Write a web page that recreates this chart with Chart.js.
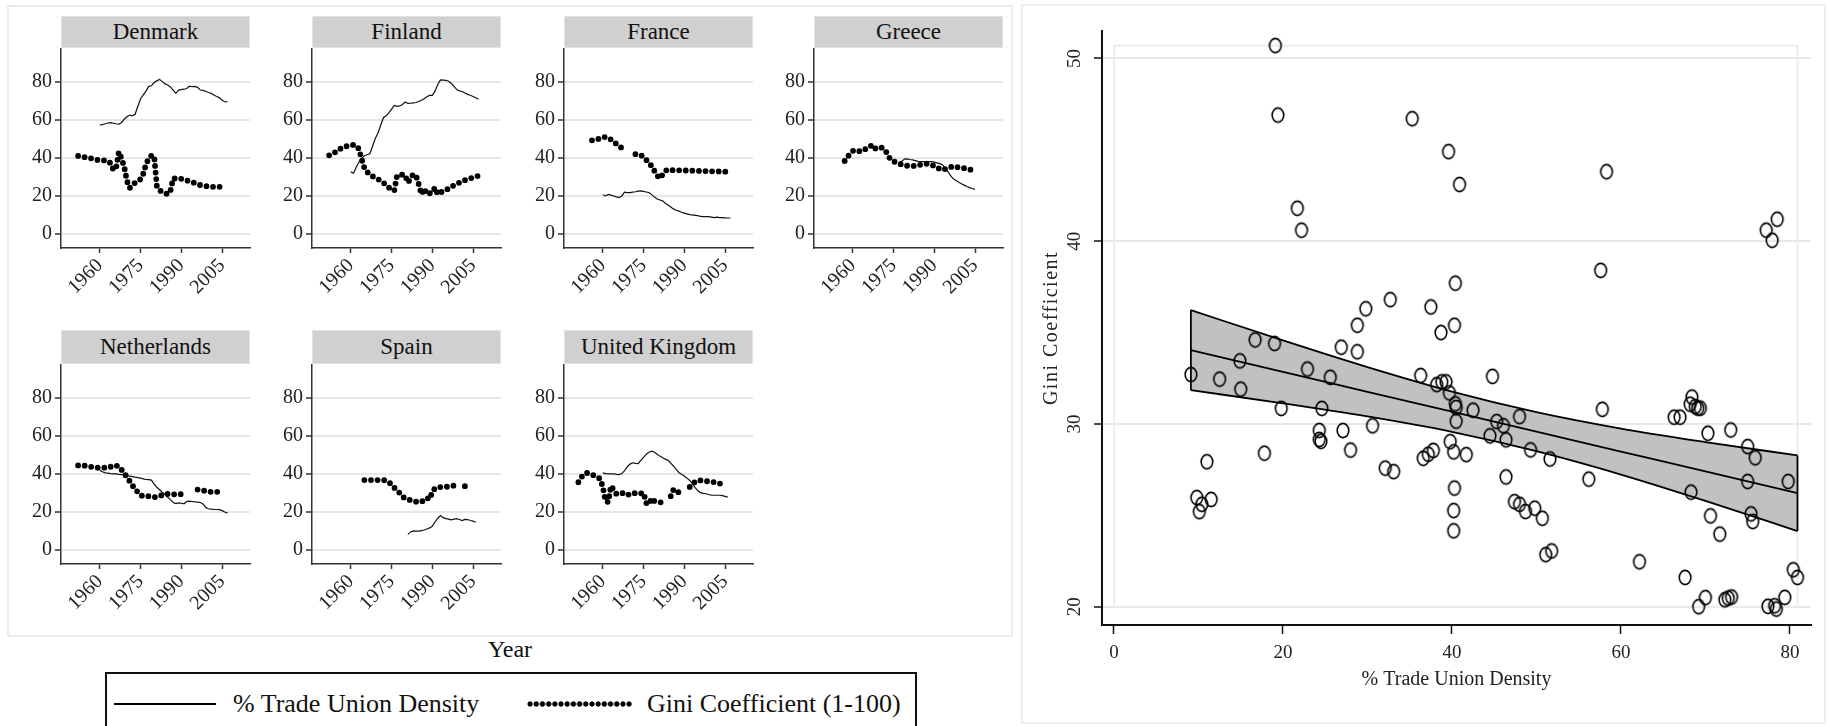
<!DOCTYPE html>
<html lang="en">
<head>
<meta charset="UTF-8">
<title>Trade union density and income inequality</title>
<script src="https://cdn.jsdelivr.net/npm/chart.js"></script>
<style>
  body {
    margin: 0;
    width: 1827px;
    height: 726px;
    overflow: hidden;
    position: relative;
    background: #fff;
    font-family: "Liberation Serif", "DejaVu Serif", serif;
    color: #111;
  }
  .frame { position: absolute; box-sizing: border-box; border: 2px solid #ececec; }
  .strip {
    position: absolute; box-sizing: border-box;
    background: #d0d0d0; border: 1px solid #dce5ea;
    font-family: "Liberation Serif", serif;
    font-size: 23px; text-align: center; color: #111;
  }
  canvas { position: absolute; }
  .label { position: absolute; white-space: nowrap; }
  #legend { position: absolute; box-sizing: border-box; border: 2px solid #111; }
  #legend div { position: absolute; }
</style>
</head>
<body>

<div class="frame" style="left:7px; top:5px; width:1006px; height:632px;"></div>
<div class="frame" style="left:1021px; top:4px; width:805px; height:720px;"></div>

<div class="label" style="left:460px; top:635px; width:100px; text-align:center; font-size:24px; line-height:28px;">Year</div>

<div id="legend" style="left:105px; top:672px; width:812px; height:70px;">
  <div style="left:7px; top:29px; width:102px; height:2px; background:#000;"></div>
  <div style="left:126px; top:14px; font-size:26px; line-height:32px; white-space:nowrap;">% Trade Union Density</div>
  <div style="left:420px; top:27px; width:105px; height:6px; background-image:radial-gradient(circle, #000 2.4px, transparent 2.9px); background-size:6.2px 6px;"></div>
  <div style="left:540px; top:14px; font-size:26px; line-height:32px; white-space:nowrap;">Gini Coefficient (1-100)</div>
</div>

<canvas id="scatter" width="797" height="712" style="left:1025px; top:8px;"></canvas>

<script>
// ---- country series (annual values, first year given separately) ----
const denmarkUnion = [57.2, 57.4, 57.8, 58.2, 58.4, 58.1, 57.8, 57.6, 58.5, 60.2,
  61.5, 62.4, 62.0, 62.8, 67.0, 71.0, 73.0, 75.0, 77.5, 77.8,
  79.5, 80.5, 81.2, 80.0, 78.8, 78.2, 77.2, 75.5, 73.8, 75.5,
  75.8, 76.0, 76.4, 77.6, 77.3, 77.5, 77.0, 75.6, 75.4, 74.9,
  74.3, 73.8, 73.0, 72.2, 71.6, 70.2, 69.4, 69.3];
const denmarkGini = [40.9, 40.6, 40.3, 40.1, 40.0, 39.5, 39.0, 38.8, 38.7, 38.6,
  38.4, 38.2, 37.0, 33.5, 34.5, 43.0, 39.5, 35.0, 27.7, 24.0,
  25.5, 26.8, 27.8, 28.6, 31.5, 36.5, 39.5, 41.0, 40.9, 25.0,
  22.8, 21.9, 21.3, 20.7, 22.5, 29.0, 29.0, 29.0, 28.8, 28.5,
  28.0, 27.5, 27.2, 26.5, 26.0, 25.5, 25.2, 25.0, 24.8, 24.6,
  24.6, 24.6, 24.6, 24.6];

const finlandUnion = [32.5, 31.8, 35.0, 37.7, 39.5, 41.0, 41.5, 42.0, 46.0, 50.0,
  53.0, 57.0, 61.0, 62.0, 63.5, 65.5, 67.5, 67.0, 67.2, 68.0,
  69.3, 68.5, 68.6, 68.8, 69.0, 69.5, 70.2, 71.0, 72.0, 72.8,
  72.8, 75.0, 78.5, 80.9, 80.8, 80.7, 80.2, 79.0, 77.5, 75.8,
  75.1, 74.8, 74.0, 73.3, 72.8, 72.2, 71.5, 70.7];
const finlandGini = [41.2, 42.0, 42.6, 43.6, 44.6, 45.2, 45.8, 46.2, 46.5, 46.7,
  46.3, 44.5, 39.0, 34.5, 32.5, 31.0, 30.2, 29.3, 28.6, 27.9,
  26.8, 25.5, 24.2, 23.3, 22.6, 30.4, 31.0, 31.0, 30.8, 26.8,
  29.0, 31.2, 30.6, 26.0, 20.7, 23.7, 20.7, 21.2, 21.6, 24.2,
  20.7, 21.5, 22.5, 23.1, 23.6, 24.5, 25.5, 26.2, 26.8, 27.5,
  28.1, 28.6, 29.1, 29.5, 30.0, 30.4];

const franceUnion = [20.4, 19.8, 20.6, 20.2, 19.8, 19.3, 18.9, 19.8, 21.8, 21.6,
  21.6, 21.8, 22.0, 22.3, 22.5, 22.2, 21.9, 21.6, 20.5, 19.2,
  18.2, 17.7, 17.2, 16.0, 15.0, 14.0, 13.0, 12.3, 11.8, 11.2,
  10.8, 10.4, 10.0, 9.8, 9.6, 9.4, 9.0, 8.9, 8.9, 8.9,
  8.7, 8.4, 8.6, 8.4, 8.4, 8.3, 8.2, 8.2];
const franceGini = [49.1, 49.3, 49.6, 50.2, 50.8, 50.8, 50.5, 49.5, 48.2, 47.2,
  46.1, 45.0, 44.0, null, null, null, 41.8, 41.6, 41.4, 40.2,
  38.8, 37.2, 35.5, 33.0, 30.5, 29.1, 31.0, 33.0, 33.8, 33.5,
  33.3, 33.3, 33.3, 33.3, 33.2, 33.2, 33.2, 33.1, 33.1, 33.0,
  33.0, 32.9, 32.9, 32.8, 32.8, 32.7, 32.7, 32.7, 32.6, 32.6,
  32.6];

const greeceUnion = [37.4, 38.0, 39.2, 39.3, 39.0, 38.8, 38.4, 38.0, 37.9, 37.9,
  37.9, 37.9, 37.9, 37.6, 37.2, 36.8, 36.2, 34.5, 32.6, 30.5,
  28.8, 27.9, 27.0, 26.2, 25.5, 24.8, 24.2, 23.7, 23.3];
const greeceGini = [38.2, 40.3, 42.0, 43.5, 44.0, 43.5, 43.2, 44.0, 44.7, 45.6,
  46.5, 44.6, 45.3, 45.6, 45.0, 43.8, 41.0, 38.8, 38.0, 37.5,
  37.0, 36.3, 36.0, 35.7, 35.6, 35.6, 35.6, 35.9, 36.3, 36.6,
  36.8, 36.6, 36.2, 35.6, 34.8, 34.0, 33.5, 34.0, 34.4, 35.0,
  35.5, 35.2, 34.8, 34.6, 34.4, 34.2, 33.8, 33.3];

const netherlandsUnion = [41.7, 41.0, 40.4, 40.2, 40.0, 39.9, 39.8, 39.6, 39.5, 39.2,
  39.0, 38.7, 38.4, 38.1, 37.9, 37.6, 37.2, 36.9, 36.8, 36.6,
  34.5, 32.8, 31.5, 30.2, 29.0, 27.5, 26.3, 24.8, 24.2, 24.6,
  24.4, 24.1, 25.3, 25.5, 25.3, 25.1, 25.0, 24.8, 24.0, 22.2,
  21.5, 21.3, 21.1, 21.1, 21.0, 20.5, 19.8, 19.2];
const netherlandsGini = [44.3, 44.3, 44.3, 44.0, 43.7, 43.5, 43.2, 43.1, 43.1, 43.1,
  43.1, 43.1, 43.6, 44.4, 44.2, 43.8, 42.0, 40.2, 38.1, 36.0,
  33.8, 31.8, 30.2, 28.6, 28.1, 28.1, 28.1, 27.8, 27.6, 27.8,
  28.1, 28.8, 29.3, 29.3, 29.3, 29.1, 29.0, 29.0, 29.2, 29.7,
  30.2, null, null, null, 31.6, 31.4, 31.1, 30.8, 30.5, 30.4,
  30.4, 30.4, 30.4, 30.4];

const spainUnion = [8.0, 9.3, 9.8, 9.7, 9.7, 10.0, 10.3, 10.8, 11.4, 12.2,
  14.5, 16.5, 17.9, 16.8, 16.3, 16.0, 15.6, 16.0, 16.3, 15.8,
  15.3, 15.9, 15.8, 15.3, 15.0, 14.4];
const spainGini = [36.6, 36.6, 36.6, 36.6, 36.6, 36.6, 36.6, 36.6, 36.2, 35.5,
  34.2, 32.6, 31.1, 29.8, 28.0, 26.9, 26.5, 26.0, 25.7, 25.2,
  24.9, 25.2, 26.0, 27.2, 26.5, 30.4, 32.3, 32.7, 32.9, 33.0,
  33.0, 33.2, 33.5, 33.7, null, null, null, 33.4, 33.0, 32.0];

const ukUnion = [40.4, 40.0, 39.9, 39.9, 39.9, 39.6, 39.5, 40.0, 41.5, 43.6,
  45.0, 45.7, 45.4, 45.3, 47.0, 48.5, 50.2, 51.2, 51.8, 51.2,
  50.2, 49.2, 48.3, 47.6, 47.0, 45.5, 44.0, 42.2, 40.6, 39.6,
  38.7, 37.6, 36.4, 34.6, 32.6, 30.9, 30.0, 29.6, 29.4, 29.0,
  28.6, 28.6, 28.6, 28.6, 28.4, 28.0, 27.6];
const ukGini = [35.5, 38.0, 39.5, 40.4, 40.0, 39.5, 38.8, 38.3, 37.2, 33.0,
  25.5, 25.0, 33.5, 31.5, 29.3, 29.3, 29.8, 29.3, 28.6, 29.4,
  29.9, 29.6, 29.3, 29.6, 29.9, 24.5, 23.8, 27.0, 25.5, 25.2,
  24.9, 24.8, null, null, 28.1, 31.6, 30.2, 30.2, null, null,
  null, 33.0, 34.5, 35.7, 36.5, 36.4, 36.2, 36.0, 35.9, 35.7,
  35.5, 35.2, 34.8, 34.2, 33.7];

const yearTicks = [1960, 1975, 1990, 2005];
const shareTicks = [0, 20, 40, 60, 80];

// ---- pooled scatter: union density vs Gini ----
const unionDensity = [19.1, 19.4, 35.3, 39.6, 40.9, 58.3, 21.7, 22.2, 78.5, 77.2,
  77.9, 57.6, 40.4, 32.7, 29.8, 37.5, 28.8, 40.3, 38.7, 16.7,
  19.0, 26.9, 28.8, 14.9, 22.9, 9.1, 12.5, 25.6, 36.3, 44.8,
  38.2, 38.8, 39.3, 39.7, 15.0, 40.4, 40.5, 42.5, 40.5, 19.8,
  24.6, 48.0, 45.3, 46.1, 44.5, 46.4, 30.6, 27.1, 24.3, 24.3,
  24.5, 28.0, 39.8, 40.2, 41.7, 36.6, 37.2, 37.8, 32.1, 33.1,
  46.4, 40.3, 40.2, 40.2, 47.4, 48.0, 48.7, 49.8, 50.7, 51.1,
  51.8, 62.2, 11.0, 17.8, 9.8, 11.5, 10.4, 10.1, 49.3, 51.6,
  56.2, 57.8, 66.3, 67.0, 68.4, 68.2, 68.8, 69.1, 69.4, 70.3,
  73.0, 75.0, 75.9, 75.0, 79.8, 68.3, 70.6, 71.7, 75.4, 75.6,
  67.6, 70.0, 69.2, 72.3, 72.7, 73.1, 77.4, 78.2, 78.4, 79.4,
  80.4, 80.9];
const giniScatter = [50.7, 46.9, 46.7, 44.9, 43.1, 43.8, 41.8, 40.6, 41.2, 40.6,
  40.05, 38.4, 37.7, 36.8, 36.3, 36.4, 35.4, 35.4, 35.0, 34.6,
  34.4, 34.2, 33.95, 33.45, 33.0, 32.7, 32.45, 32.55, 32.65, 32.6,
  32.15, 32.3, 32.3, 31.7, 31.9, 31.1, 30.9, 30.75, 30.15, 30.85,
  30.85, 30.4, 30.13, 29.9, 29.35, 29.13, 29.9, 29.64, 29.64, 29.15,
  29.05, 28.57, 29.03, 28.47, 28.32, 28.12, 28.34, 28.55, 27.58, 27.39,
  27.1, 26.49, 25.26, 24.15, 25.75, 25.6, 25.21, 25.39, 24.84, 22.85,
  23.05, 22.46, 27.93, 28.4, 25.97, 25.87, 25.6, 25.2, 28.58, 28.08,
  26.98, 30.8, 30.37, 30.37, 31.47, 31.08, 30.95, 30.86, 30.86, 29.49,
  29.67, 28.76, 28.15, 26.85, 26.85, 26.27, 24.97, 23.97, 25.08, 24.66,
  21.6, 20.5, 20.0, 20.38, 20.47, 20.53, 20.02, 20.05, 19.87, 20.51,
  22.02, 21.6];

// fitted line and 95% band, read at these x positions
const fitX = [9.1, 20, 30, 40, 50, 60, 70, 80.9];
const fitMid = [34.04, 32.85, 31.76, 30.67, 29.58, 28.49, 27.40, 26.21];
const fitHi = [36.23, 34.57, 33.11, 31.77, 30.65, 29.75, 29.01, 28.28];
const fitLo = [31.85, 31.13, 30.41, 29.57, 28.51, 27.23, 25.79, 24.14];

const giniTicks = [20, 30, 40, 50];
const densityTicks = [0, 20, 40, 60, 80];

// ---- small multiples ----
const FONT = '"Liberation Serif", "DejaVu Serif", serif';
const panels = [
  { name: 'Denmark', union: denmarkUnion, unionStart: 1960, gini: denmarkGini, giniStart: 1952 },
  { name: 'Finland', union: finlandUnion, unionStart: 1960, gini: finlandGini, giniStart: 1952 },
  { name: 'France', union: franceUnion, unionStart: 1960, gini: franceGini, giniStart: 1956 },
  { name: 'Greece', union: greeceUnion, unionStart: 1977, gini: greeceGini, giniStart: 1957 },
  { name: 'Netherlands', union: netherlandsUnion, unionStart: 1960, gini: netherlandsGini, giniStart: 1952 },
  { name: 'Spain', union: spainUnion, unionStart: 1981, gini: spainGini, giniStart: 1965 },
  { name: 'United Kingdom', union: ukUnion, unionStart: 1960, gini: ukGini, giniStart: 1951 }
];

const colLeft = [61, 312, 564, 814];
const rowTop = [48, 364];
const stripTop = [16, 330];
const stripH = [32, 34];
const plotW = 189, plotH = 200, yAxisW = 52, xAxisH = 60, padRight = 8;

function toPoints(start, values) {
  return values.map((v, i) => ({ x: start + i, y: v }));
}

panels.forEach((p, i) => {
  const col = i % 4, row = Math.floor(i / 4);
  const left = colLeft[col], top = rowTop[row];

  const strip = document.createElement('div');
  strip.className = 'strip';
  strip.textContent = p.name;
  Object.assign(strip.style, {
    left: left + 'px', top: stripTop[row] + 'px', width: plotW + 'px',
    height: stripH[row] + 'px', lineHeight: (stripH[row] - 2) + 'px'
  });
  document.body.appendChild(strip);

  const cv = document.createElement('canvas');
  cv.width = yAxisW + plotW + padRight;
  cv.height = plotH + xAxisH;
  cv.style.left = (left - yAxisW) + 'px';
  cv.style.top = top + 'px';
  document.body.appendChild(cv);

  new Chart(cv, {
    type: 'line',
    data: {
      datasets: [
        {
          label: '% Trade Union Density',
          data: toPoints(p.unionStart, p.union),
          borderColor: '#111', borderWidth: 1.2, pointRadius: 0, tension: 0
        },
        {
          label: 'Gini Coefficient (1-100)',
          data: toPoints(p.giniStart, p.gini),
          borderColor: '#000', borderWidth: 5.8, borderDash: [0, 6.6],
          borderCapStyle: 'round', pointRadius: 0, spanGaps: false, tension: 0
        }
      ]
    },
    options: {
      responsive: false, animation: false, devicePixelRatio: 1,
      layout: { padding: { left: 0, right: padRight, top: 0, bottom: 0 } },
      plugins: { legend: { display: false }, tooltip: { enabled: false } },
      scales: {
        x: {
          type: 'linear', min: 1945.7, max: 2015.3,
          afterBuildTicks: s => { s.ticks = yearTicks.map(v => ({ value: v })); },
          afterFit: s => { s.height = xAxisH; s.paddingLeft = 0; s.paddingRight = 0; },
          ticks: {
            autoSkip: false, minRotation: 45, maxRotation: 45, padding: 1,
            color: '#222', font: { family: FONT, size: 20 },
            callback: v => String(v)
          },
          grid: { drawOnChartArea: false, drawTicks: true, tickLength: 5, tickColor: '#333', tickWidth: 1.5 },
          border: { display: true, color: '#333', width: 1.5 }
        },
        y: {
          min: -7.6, max: 97.7,
          afterBuildTicks: s => { s.ticks = shareTicks.map(v => ({ value: v })); },
          afterFit: s => { s.width = yAxisW; s.paddingTop = 0; s.paddingBottom = 0; },
          ticks: { color: '#222', padding: 3, font: { family: FONT, size: 20 } },
          grid: { color: '#e6e6e6', lineWidth: 2, tickColor: '#333', tickLength: 6, tickWidth: 1.5 },
          border: { display: true, color: '#333', width: 1.5 }
        }
      }
    }
  });
});

// ---- scatter with fitted band ----
function makeRing() {
  const c = document.createElement('canvas');
  c.width = 16; c.height = 19;
  const g = c.getContext('2d');
  g.strokeStyle = '#000';
  g.lineWidth = 1.6;
  g.beginPath();
  g.ellipse(8, 9.5, 5.8, 7.1, 0, 0, Math.PI * 2);
  g.stroke();
  return c;
}

const scatterDecor = {
  id: 'scatterDecor',
  beforeDatasetsDraw(chart) {
    const { ctx, scales: { x, y } } = chart;
    const x0 = x.getPixelForValue(densityTicks[0]);
    const x1 = x.getPixelForValue(Math.max(...unionDensity));
    const y0 = y.getPixelForValue(giniTicks[0]);
    const y1 = y.getPixelForValue(Math.max(...giniScatter));
    ctx.save();
    ctx.strokeStyle = '#ececec';
    ctx.lineWidth = 2;
    ctx.strokeRect(x0, y1, x1 - x0, y0 - y1);
    ctx.restore();
  },
  afterDatasetDraw(chart, args) {
    if (args.index !== 3) return;
    const hi = chart.getDatasetMeta(3).data, lo = chart.getDatasetMeta(2).data;
    const { ctx } = chart;
    ctx.save();
    ctx.strokeStyle = '#000';
    ctx.lineWidth = 1.8;
    ctx.beginPath();
    [0, hi.length - 1].forEach(k => {
      ctx.moveTo(hi[k].x, hi[k].y);
      ctx.lineTo(lo[k].x, lo[k].y);
    });
    ctx.stroke();
    ctx.restore();
  },
  afterDraw(chart) {
    const { ctx, chartArea, scales: { y } } = chart;
    ctx.save();
    ctx.fillStyle = '#222';
    ctx.textAlign = 'center';
    ctx.textBaseline = 'middle';
    ctx.font = '19px ' + FONT;
    giniTicks.forEach(v => {
      ctx.save();
      ctx.translate(chartArea.left - 27, y.getPixelForValue(v));
      ctx.rotate(-Math.PI / 2);
      ctx.fillText(String(v), 0, 0);
      ctx.restore();
    });
    ctx.font = '20px ' + FONT;
    ctx.letterSpacing = '1.5px';
    ctx.save();
    ctx.translate(chartArea.left - 50, (chartArea.top + chartArea.bottom) / 2);
    ctx.rotate(-Math.PI / 2);
    ctx.fillText('Gini Coefficient', 0, 0);
    ctx.restore();
    ctx.letterSpacing = '0px';
    ctx.fillText('% Trade Union Density', (chartArea.left + chartArea.right) / 2, chartArea.bottom + 55);
    ctx.restore();
  }
};

const toXY = (xs, ys) => xs.map((v, i) => ({ x: v, y: ys[i] }));

new Chart(document.getElementById('scatter'), {
  type: 'scatter',
  data: {
    datasets: [
      {
        label: 'Gini Coefficient', data: toXY(unionDensity, giniScatter),
        pointStyle: makeRing(), pointRadius: 7, order: 1
      },
      {
        type: 'line', label: 'Fitted values', data: toXY(fitX, fitMid),
        borderColor: '#000', borderWidth: 1.8, pointRadius: 0, fill: false,
        cubicInterpolationMode: 'monotone', order: 2
      },
      {
        type: 'line', label: 'Lower bound', data: toXY(fitX, fitLo),
        borderColor: '#000', borderWidth: 1.8, pointRadius: 0, fill: false,
        cubicInterpolationMode: 'monotone', order: 3
      },
      {
        type: 'line', label: 'Upper bound', data: toXY(fitX, fitHi),
        borderColor: '#000', borderWidth: 1.8, pointRadius: 0,
        fill: '-1', backgroundColor: '#c1c1c1',
        cubicInterpolationMode: 'monotone', order: 4
      }
    ]
  },
  options: {
    responsive: false, animation: false, devicePixelRatio: 1,
    layout: { padding: { left: 0, right: 11, top: 23, bottom: 0 } },
    plugins: { legend: { display: false }, tooltip: { enabled: false } },
    scales: {
      x: {
        type: 'linear', min: -1.42, max: 82.5,
        afterBuildTicks: s => { s.ticks = densityTicks.map(v => ({ value: v })); },
        afterFit: s => { s.height = 95; s.paddingLeft = 0; s.paddingRight = 0; },
        ticks: { autoSkip: false, maxRotation: 0, color: '#222', padding: 8, font: { family: FONT, size: 19 } },
        grid: { drawOnChartArea: false, tickLength: 9, tickColor: '#111', tickWidth: 1.5 },
        border: { display: true, color: '#111', width: 2 }
      },
      y: {
        min: 19.0, max: 51.5,
        afterBuildTicks: s => { s.ticks = giniTicks.map(v => ({ value: v })); },
        afterFit: s => { s.width = 77; s.paddingTop = 0; s.paddingBottom = 0; },
        ticks: { display: false },
        grid: { color: '#e8e8e8', lineWidth: 2, tickLength: 8, tickColor: '#111', tickWidth: 1.5 },
        border: { display: true, color: '#111', width: 2 }
      }
    }
  },
  plugins: [scatterDecor]
});
</script>
</body>
</html>
